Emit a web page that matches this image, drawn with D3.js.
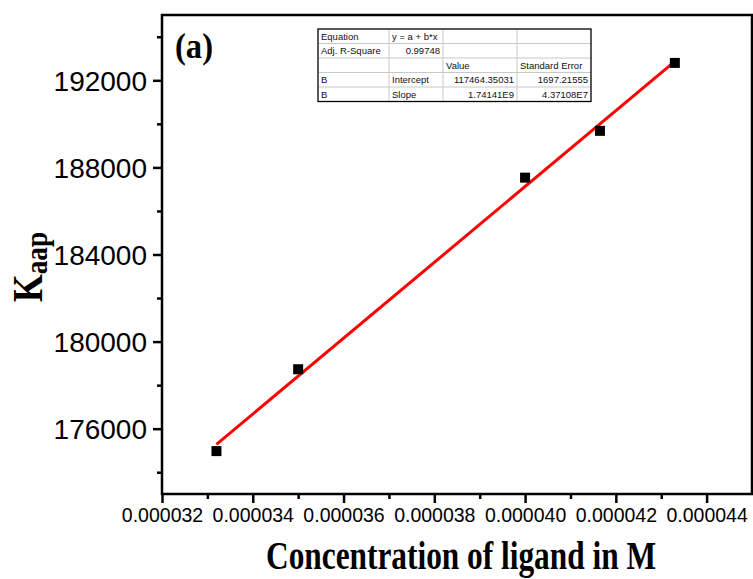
<!DOCTYPE html>
<html>
<head>
<meta charset="utf-8">
<script src="https://cdn.jsdelivr.net/npm/d3@7"></script>
<style>
  html, body { margin: 0; padding: 0; background: #fff; }
  svg { display: block; }
  .tick-label { font-family: Arial, "Liberation Sans", sans-serif; fill: #000; }
  .serif-bold { font-family: "Times New Roman", "Liberation Serif", serif; font-weight: bold; fill: #000; }
  .tbl { font-family: Arial, "Liberation Sans", sans-serif; font-size: 9.5px; fill: #111; }
</style>
</head>
<body>
<div id="chart"></div>
<script>
// Kaap vs ligand concentration with a linear fit (panel a)
const concentration = [0.0000332, 0.0000350, 0.0000400, 0.00004165, 0.0000433];
const kaap = [174970, 178730, 187530, 189680, 192800];

// fit parameters as printed in the inset table
const intercept = 117464.35031;
const slope = 1.74141e9;

const xMajorTicks = [0.000032, 0.000034, 0.000036, 0.000038, 0.000040, 0.000042, 0.000044];
const xMinorTicks = [0.000033, 0.000035, 0.000037, 0.000039, 0.000041, 0.000043];
const yMajorTicks = [176000, 180000, 184000, 188000, 192000];
const yMinorTicks = [174000, 178000, 182000, 186000, 190000, 194000];

const tableRows = [
  ['Equation', 'y = a + b*x', '', ''],
  ['Adj. R-Square', '0.99748', '', ''],
  ['', '', 'Value', 'Standard Error'],
  ['B', 'Intercept', '117464.35031', '1697.21555'],
  ['B', 'Slope', '1.74141E9', '4.37108E7']
];
// which cells are right aligned (numbers)
const rightAligned = [
  [false, false, false, false],
  [false, true, false, false],
  [false, false, false, false],
  [false, false, true, true],
  [false, false, true, true]
];

const W = 753, H = 579;
const plot = { left: 162, right: 752, top: 15, bottom: 494 };

const svg = d3.select('#chart').append('svg').attr('width', W).attr('height', H);

const x = d3.scaleLinear().domain([0.000032, 0.000045]).range([plot.left, plot.right]);
const y = d3.scaleLinear().domain([173000, 195000]).range([plot.bottom, plot.top]);

// frame
svg.append('rect')
  .attr('x', plot.left).attr('y', plot.top)
  .attr('width', plot.right - plot.left).attr('height', plot.bottom - plot.top)
  .attr('fill', 'none').attr('stroke', '#000').attr('stroke-width', 2.5);

// bottom axis: major + minor ticks outward
const xAxis = d3.axisBottom(x).tickValues(xMajorTicks).tickSize(9).tickFormat(d3.format('.6f'));
const gx = svg.append('g').attr('transform', `translate(0,${plot.bottom})`).call(xAxis);
gx.select('.domain').remove();
gx.selectAll('.tick line').attr('stroke', '#000').attr('stroke-width', 2.5);
gx.selectAll('.tick text').attr('class', 'tick-label').style('font-size', '19.5px').attr('y', 14).attr('dy', '0.71em');

const gxMinor = svg.append('g').attr('transform', `translate(0,${plot.bottom})`)
  .call(d3.axisBottom(x).tickValues(xMinorTicks).tickSize(5).tickFormat(''));
gxMinor.select('.domain').remove();
gxMinor.selectAll('.tick line').attr('stroke', '#000').attr('stroke-width', 2.5);

// left axis
const yAxis = d3.axisLeft(y).tickValues(yMajorTicks).tickSize(9).tickFormat(d3.format('d'));
const gy = svg.append('g').attr('transform', `translate(${plot.left},0)`).call(yAxis);
gy.select('.domain').remove();
gy.selectAll('.tick line').attr('stroke', '#000').attr('stroke-width', 2.5);
gy.selectAll('.tick text').attr('class', 'tick-label').style('font-size', '28px').attr('x', -15).attr('dy', '0.35em');

const gyMinor = svg.append('g').attr('transform', `translate(${plot.left},0)`)
  .call(d3.axisLeft(y).tickValues(yMinorTicks).tickSize(5).tickFormat(''));
gyMinor.select('.domain').remove();
gyMinor.selectAll('.tick line').attr('stroke', '#000').attr('stroke-width', 2.5);

// linear fit line over data range
const xExtent = d3.extent(concentration);
const fitLine = xExtent.map(v => [v, intercept + slope * v]);
svg.append('path')
  .datum(fitLine)
  .attr('d', d3.line().x(d => x(d[0])).y(d => y(d[1])))
  .attr('stroke', '#ff0000').attr('stroke-width', 3).attr('fill', 'none');

// square markers
const points = concentration.map((c, i) => ({ c, k: kaap[i] }));
const sq = 10;
svg.append('g').selectAll('rect').data(points).enter().append('rect')
  .attr('x', d => x(d.c) - sq / 2).attr('y', d => y(d.k) - sq / 2)
  .attr('width', sq).attr('height', sq).attr('fill', '#000');

// panel letter
svg.append('text').attr('class', 'serif-bold')
  .attr('x', 175).attr('y', 58).style('font-size', '36px')
  .attr('textLength', 38).attr('lengthAdjust', 'spacingAndGlyphs')
  .text('(a)');

// x axis title (condensed bold serif)
svg.append('text').attr('class', 'serif-bold')
  .attr('x', 266).attr('y', 569).style('font-size', '39px')
  .attr('textLength', 390).attr('lengthAdjust', 'spacingAndGlyphs')
  .text('Concentration of ligand in M');

// y axis title with subscript
const yTitle = svg.append('text').attr('class', 'serif-bold')
  .attr('transform', 'translate(42,302) rotate(-90) scale(0.85,1)')
  .style('font-size', '42px');
yTitle.append('tspan').text('K');
yTitle.append('tspan').attr('dy', 5).style('font-size', '32px').text('aap');

// inset fit table
const colEdges = [318, 389, 443, 517, 591];
const rowEdges = [29, 43.5, 58, 72.5, 87, 101.5];
const table = svg.append('g');
table.append('rect')
  .attr('x', colEdges[0]).attr('y', rowEdges[0])
  .attr('width', colEdges[4] - colEdges[0]).attr('height', rowEdges[5] - rowEdges[0])
  .attr('fill', '#fff').attr('stroke', 'none');
table.selectAll('line.v').data(colEdges.slice(1, 4)).enter().append('line')
  .attr('x1', d => d).attr('x2', d => d).attr('y1', rowEdges[0]).attr('y2', rowEdges[5])
  .attr('stroke', '#c8c8c8').attr('stroke-width', 1);
table.selectAll('line.h').data(rowEdges.slice(1, 5)).enter().append('line')
  .attr('x1', colEdges[0]).attr('x2', colEdges[4]).attr('y1', d => d).attr('y2', d => d)
  .attr('stroke', '#c8c8c8').attr('stroke-width', 1);
table.append('rect')
  .attr('x', colEdges[0]).attr('y', rowEdges[0])
  .attr('width', colEdges[4] - colEdges[0]).attr('height', rowEdges[5] - rowEdges[0])
  .attr('fill', 'none').attr('stroke', '#000').attr('stroke-width', 1.3);

tableRows.forEach((row, r) => {
  row.forEach((cell, c) => {
    if (!cell) return;
    const right = rightAligned[r][c];
    table.append('text').attr('class', 'tbl')
      .attr('x', right ? colEdges[c + 1] - 3 : colEdges[c] + 3)
      .attr('y', (rowEdges[r] + rowEdges[r + 1]) / 2)
      .attr('dy', '0.35em')
      .attr('text-anchor', right ? 'end' : 'start')
      .text(cell);
  });
});
</script>
</body>
</html>
